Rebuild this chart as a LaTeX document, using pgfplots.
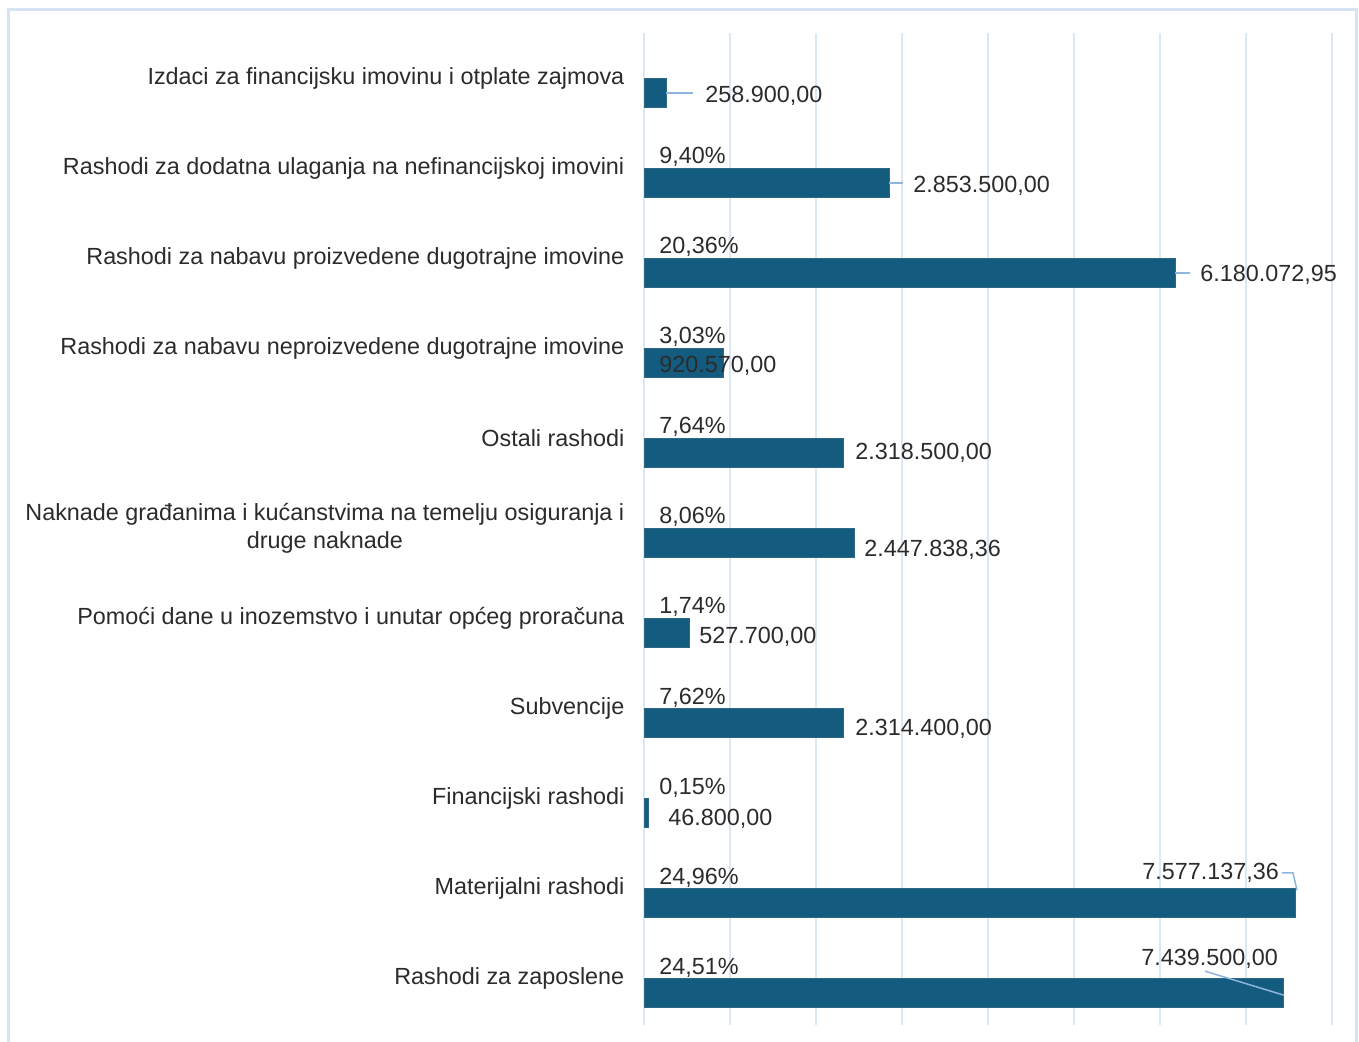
\documentclass[border=0pt]{standalone}
\usepackage{pgfplots}
\pgfplotsset{compat=1.18}
\usepackage{fontspec}
\setmainfont{Liberation Sans}

\definecolor{gridblue}{HTML}{DCE7F4}
\definecolor{framecol}{HTML}{D6E3F3}
\definecolor{barfill}{HTML}{145C7F}
\definecolor{baredge}{HTML}{2E6884}
\definecolor{txt}{HTML}{2B2B2B}
\definecolor{leader}{HTML}{8FB4DD}

\begin{document}
\begin{tikzpicture}
\useasboundingbox (0,0) rectangle (13.59,10.41);
% outer frame (runs off the bottom edge)
\draw[framecol, line width=0.3mm] (0.08,-0.5) -- (0.08,10.31) -- (13.56,10.31) -- (13.56,-0.5);
\begin{axis}[
    at={(6.44cm,0.16cm)}, anchor=south west,
    scale only axis,
    width=6.88cm, height=9.92cm,
    xmin=0, xmax=8000000,
    ymin=-0.52, ymax=10.5,
    axis line style={draw=none},
    xtick={0,1000000,...,8000000},
    xticklabels={},
    xmajorgrids,
    grid style={gridblue, line width=0.25mm},
    major tick length=0pt,
    ytick={0,...,10},
    yticklabels={
        Rashodi za zaposlene,
        Materijalni rashodi,
        Financijski rashodi,
        Subvencije,
        Pomoći dane u inozemstvo i unutar općeg proračuna,
        {Naknade građanima i kućanstvima na temelju osiguranja i\\druge naknade},
        Ostali rashodi,
        Rashodi za nabavu neproizvedene dugotrajne imovine,
        Rashodi za nabavu proizvedene dugotrajne imovine,
        Rashodi za dodatna ulaganja na nefinancijskoj imovini,
        Izdaci za financijsku imovinu i otplate zajmova},
    yticklabel style={font=\fontsize{6.65}{8}\selectfont, text=txt, align=center, inner sep=0pt, xshift=-0.19cm},
    nodes near coords style={font=\fontsize{6.65}{8}\selectfont, text=txt, inner sep=0pt},
]
% bars
\addplot[xbar, bar width=0.29cm, bar shift=-0.15cm, fill=barfill, draw=baredge, line width=0.2pt] coordinates {
    (7439500.00,0)
    (7577137.36,1)
    (46800.00,2)
    (2314400.00,3)
    (527700.00,4)
    (2447838.36,5)
    (2318500.00,6)
    (920570.00,7)
    (6180072.95,8)
    (2853500.00,9)
    (258900.00,10)
};
% share labels
\addplot[draw=none, mark=none, point meta=explicit symbolic,
    nodes near coords={\makebox[0pt][l]{\pgfplotspointmeta}},
    nodes near coords align={anchor=west}] coordinates {
    (151000,0.12) [24,51\%]
    (151000,1.12) [24,96\%]
    (151000,2.12) [0,15\%]
    (151000,3.12) [7,62\%]
    (151000,4.12) [1,74\%]
    (151000,5.12) [8,06\%]
    (151000,6.12) [7,64\%]
    (151000,7.12) [3,03\%]
    (151000,8.12) [20,36\%]
    (151000,9.12) [9,40\%]
};
% value labels
\addplot[draw=none, mark=none, point meta=explicit symbolic,
    nodes near coords={\makebox[0pt][l]{\pgfplotspointmeta}},
    nodes near coords align={anchor=west}] coordinates {
    (5755900,0.21) [7.439.500,00]
    (5767500,1.17) [7.577.137,36]
    (255800,1.77) [46.800,00]
    (2430200,2.77) [2.314.400,00]
    (616300,3.79) [527.700,00]
    (2535000,4.76) [2.447.838,36]
    (2430200,5.84) [2.318.500,00]
    (151000,6.80) [920.570,00]
    (6442000,7.81) [6.180.072,95]
    (3104700,8.80) [2.853.500,00]
    (686000,9.80) [258.900,00]
};
% leader lines
\addplot[leader, line width=0.15mm, mark=none] coordinates {(258900,9.833) (569800,9.833)};
\addplot[leader, line width=0.15mm, mark=none] coordinates {(2853500,8.833) (3011700,8.833)};
\addplot[leader, line width=0.15mm, mark=none] coordinates {(6180073,7.833) (6348800,7.833)};
\addplot[leader, line width=0.15mm, mark=none] coordinates {(7418600,1.17) (7546500,1.17) (7593000,0.978)};
\addplot[leader, line width=0.15mm, mark=none] coordinates {(6523300,0.078) (7441900,-0.189)};
\end{axis}
\end{tikzpicture}
\end{document}
